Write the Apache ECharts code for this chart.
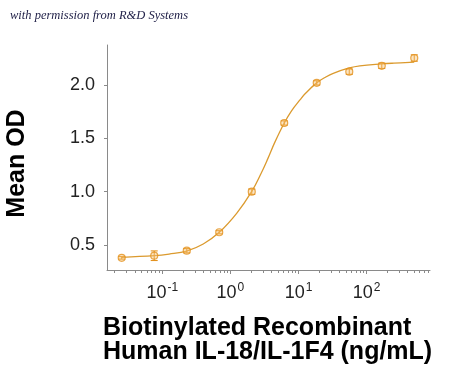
<!DOCTYPE html>
<html>
<head>
<meta charset="utf-8">
<script src="https://cdn.jsdelivr.net/npm/echarts@6/dist/echarts.min.js"></script>
<style>html,body{margin:0;padding:0;background:#fff;}#c{width:450px;height:372px;}</style>
</head>
<body>
<div id="c"></div>
<script>
// Data
const concentrations = [0.0254, 0.0762, 0.229, 0.686, 2.06, 6.17, 18.5, 55.6, 166.7, 500]; // ng/mL
const meanOD = [0.38, 0.40, 0.447, 0.62, 1.00, 1.644, 2.02, 2.125, 2.18, 2.253];
const odError = [0.012, 0.045, 0.02, 0.015, 0.025, 0.02, 0.02, 0.025, 0.025, 0.03];
// Fitted curve (log10 concentration, OD)
const curveLogConc = [-1.595, -1.117, -0.9, -0.642, -0.398, -0.163, 0.092, 0.312, 0.45, 0.55, 0.65, 0.791, 0.9, 1.021, 1.1, 1.266, 1.4, 1.51, 1.745, 1.9, 2.22, 2.4, 2.699];
const curveOD = [0.385, 0.40, 0.415, 0.444, 0.51, 0.619, 0.797, 1.0, 1.17, 1.31, 1.46, 1.644, 1.76, 1.86, 1.92, 2.02, 2.075, 2.11, 2.16, 2.18, 2.198, 2.205, 2.214];
const yTicks = [0.5, 1.0, 1.5, 2.0];
const xMajorExponents = [-1, 0, 1, 2];
const minorMultipliers = [2, 3, 4, 5, 6, 7, 8, 9];
const xDecades = [-2, -1, 0, 1, 2];

const X_MIN = -1.811, X_MAX = 2.93;
const minorTicks = [];
xDecades.forEach(d => minorMultipliers.forEach(m => {
  const v = d + Math.log10(m);
  if (v > X_MIN && v < X_MAX) minorTicks.push(v);
}));

const markerColor = '#E3921F';
const lineColor = '#DB9A2E';

const chart = echarts.init(document.getElementById('c'), null, {renderer: 'canvas'});
const pts = concentrations.map((c, i) => [Math.log10(c), meanOD[i], odError[i]]);
const curve = curveLogConc.map((x, i) => [x, curveOD[i]]);

chart.setOption({
  animation: false,
  backgroundColor: '#fff',
  grid: {left: 107, right: 20, top: 45, bottom: 102, containLabel: false},
  xAxis: [{
    type: 'value', min: X_MIN, max: X_MAX,
    axisLine: {show: true, onZero: false, lineStyle: {color: '#8a8a8a', width: 1}},
    splitLine: {show: false},
    axisTick: {show: true, customValues: xMajorExponents, length: 4, lineStyle: {color: '#8a8a8a'}},
    axisLabel: {
      show: true, customValues: xMajorExponents, margin: 12,
      formatter: v => '{b|10}{s|' + Math.round(v) + '}',
      rich: {
        b: {fontFamily: 'Liberation Sans, Arial', fontSize: 18, color: '#222'},
        s: {fontFamily: 'Liberation Sans, Arial', fontSize: 12, color: '#222', padding: [0, 0, 10, 1]}
      }
    }
  }, {
    type: 'value', min: X_MIN, max: X_MAX, position: 'bottom', gridIndex: 0,
    axisLine: {show: false, onZero: false}, splitLine: {show: false},
    axisTick: {show: true, customValues: minorTicks, length: 3, lineStyle: {color: '#8a8a8a'}},
    axisLabel: {show: false}
  }],
  yAxis: {
    type: 'value', min: 0.266, max: 2.375,
    axisLine: {show: true, onZero: false, lineStyle: {color: '#8a8a8a', width: 1}},
    splitLine: {show: false},
    axisTick: {show: true, customValues: yTicks, length: 3, lineStyle: {color: '#8a8a8a'}},
    axisLabel: {
      show: true, customValues: yTicks, margin: 12,
      formatter: v => v.toFixed(1),
      fontFamily: 'Liberation Sans, Arial', fontSize: 18, color: '#222'
    }
  },
  graphic: [
    {type: 'text', left: 10, top: 9, style: {text: 'with permission from R&D Systems', font: 'italic 12.5px "Liberation Serif", serif', fill: '#23234a'}},
    {type: 'text', x: 17, y: 163.5, rotation: Math.PI / 2, style: {text: 'Mean OD', font: 'bold 25px "Liberation Sans", Arial', fill: '#000', align: 'center', verticalAlign: 'middle'}},
    {type: 'text', x: 103, y: 316, style: {text: 'Biotinylated Recombinant\nHuman IL-18/IL-1F4 (ng/mL)', font: 'bold 25px "Liberation Sans", Arial', fill: '#000', lineHeight: 24, align: 'left', verticalAlign: 'top'}}
  ],
  series: [
    {
      type: 'line', data: curve, smooth: 0.4, showSymbol: false, symbol: 'none',
      lineStyle: {color: lineColor, width: 1.3}, z: 2
    },
    {
      type: 'custom', z: 3,
      renderItem: (params, api) => {
        const x = api.value(0), y = api.value(1), e = api.value(2);
        const top = api.coord([x, y + e]);
        const bot = api.coord([x, y - e]);
        const hw = 3.5;
        const st = {stroke: markerColor, lineWidth: 1.1};
        return {type: 'group', children: [
          {type: 'line', shape: {x1: top[0], y1: top[1], x2: bot[0], y2: bot[1]}, style: st},
          {type: 'line', shape: {x1: top[0] - hw, y1: top[1], x2: top[0] + hw, y2: top[1]}, style: st},
          {type: 'line', shape: {x1: bot[0] - hw, y1: bot[1], x2: bot[0] + hw, y2: bot[1]}, style: st}
        ]};
      },
      data: pts
    },
    {
      type: 'scatter', data: pts.map(p => [p[0], p[1]]), symbol: 'circle', symbolSize: 7,
      itemStyle: {color: 'rgba(246,196,120,0.55)', borderColor: markerColor, borderWidth: 1.2}, z: 4
    }
  ]
});
</script>
</body>
</html>
